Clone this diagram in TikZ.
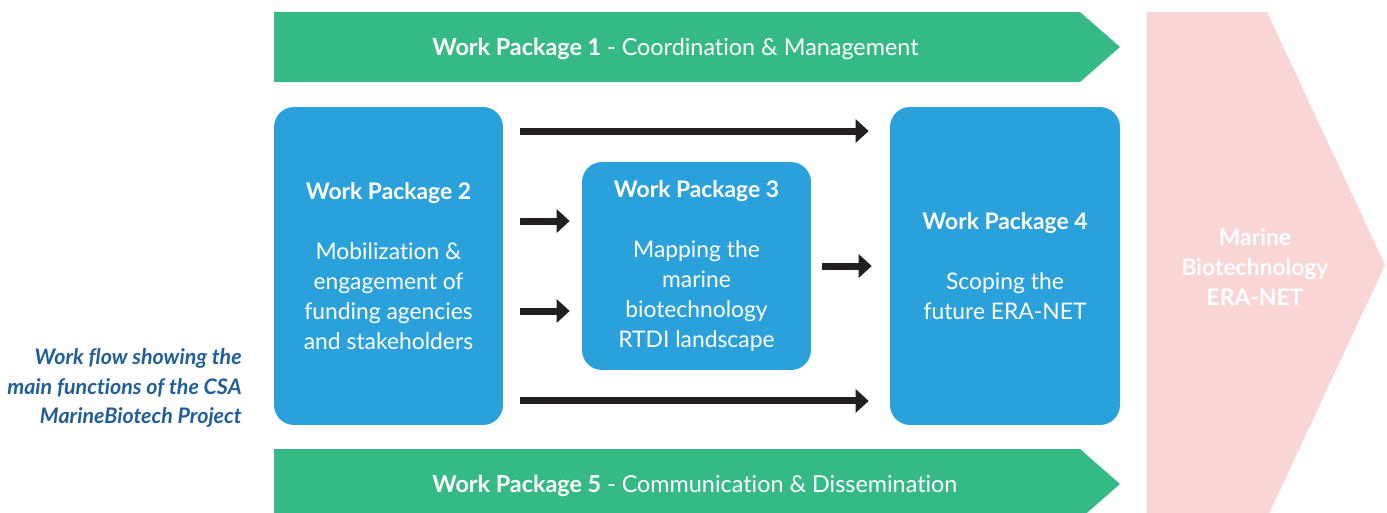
\documentclass[tikz,border=0pt]{standalone}
\usepackage{fontspec}
\setmainfont[Ligatures=NoCommon]{Lato}
\usetikzlibrary{arrows.meta}

\definecolor{wpblue}{HTML}{2BA1DC}
\definecolor{wpgreen}{HTML}{35BA85}
\definecolor{erapink}{HTML}{F9D5D6}
\definecolor{flowblack}{HTML}{231F20}
\definecolor{captionblue}{HTML}{1F5F99}

\tikzset{
  wpbox/.style={rectangle, fill=wpblue, rounded corners=0.4cm, text=white, align=center,
    inner sep=0pt, font=\fontsize{13}{17}\selectfont},
  wpband/.style={fill=wpgreen},
  bandtext/.style={anchor=west, inner sep=0pt, text=white, font=\fontsize{13.3}{17}\selectfont},
  flow/.style={draw=flowblack, line width=0.14cm, -{Triangle[length=0.26cm,width=0.46cm]}},
}

\begin{document}
\begin{tikzpicture}[x=0.02cm, y=-0.02cm]
    \clip (0,0) rectangle (1387,512);

    % ERA-NET
    \fill[erapink] (1147,12) -- (1267,12) -- (1385,265) -- (1267,518) -- (1147,518) -- cycle;
    \node[text=white, align=center, font=\fontsize{13}{17}\selectfont\bfseries] (eranet) at (1255,267)
        {Marine\\Biotechnology\\ERA-NET};

    % Work Package 1 and 5
    \fill[wpband] (274,12) -- (1080,12) -- (1120,47) -- (1080,82) -- (274,82) -- cycle;
    \fill[wpband] (274,449) -- (1080,449) -- (1120,484) -- (1080,519) -- (274,519) -- cycle;
    \node[bandtext] (wp1) at (432,49) {\textbf{Work Package 1} - Coordination \& Management};
    \node[bandtext] (wp5) at (432,486) {\textbf{Work Package 5} - Communication \& Dissemination};

    % Work Package 2, 3, 4
    \node[wpbox, minimum width=4.58cm, minimum height=6.36cm] (wp2) at (388.5,266)
        {\textbf{Work Package 2}\\[17pt] Mobilization \&\\engagement of\\funding agencies\\and stakeholders};
    \node[wpbox, minimum width=4.58cm, minimum height=4.16cm] (wp3) at (696.5,266)
        {\textbf{Work Package 3}\\[17pt] Mapping the\\marine\\biotechnology\\RTDI landscape};
    \node[wpbox, minimum width=4.6cm, minimum height=6.36cm] (wp4) at (1005,266)
        {\textbf{Work Package 4}\\[17pt] Scoping the\\future ERA-NET};

    % flows
    \draw[flow, shorten <=0.34cm, shorten >=0.42cm] ([yshift=2.7cm]wp2.east) -- ([yshift=2.7cm]wp4.west);
    \draw[flow, shorten <=0.34cm, shorten >=0.42cm] ([yshift=-2.7cm]wp2.east) -- ([yshift=-2.7cm]wp4.west);
    \draw[flow, shorten <=0.34cm, shorten >=0.24cm] ([yshift=0.9cm]wp2.east) -- ([yshift=0.9cm]wp3.west);
    \draw[flow, shorten <=0.34cm, shorten >=0.24cm] ([yshift=-0.9cm]wp2.east) -- ([yshift=-0.9cm]wp3.west);
    \draw[flow, shorten <=0.22cm, shorten >=0.36cm] (wp3.east) -- (wp4.west);

    % caption
    \node[anchor=east, inner sep=0pt, align=right, text=captionblue,
          font=\fontsize{12.2}{17}\selectfont\bfseries\itshape] (caption) at (242,388)
        {Work flow showing the\\main functions of the CSA\\MarineBiotech Project};
\end{tikzpicture}
\end{document}
